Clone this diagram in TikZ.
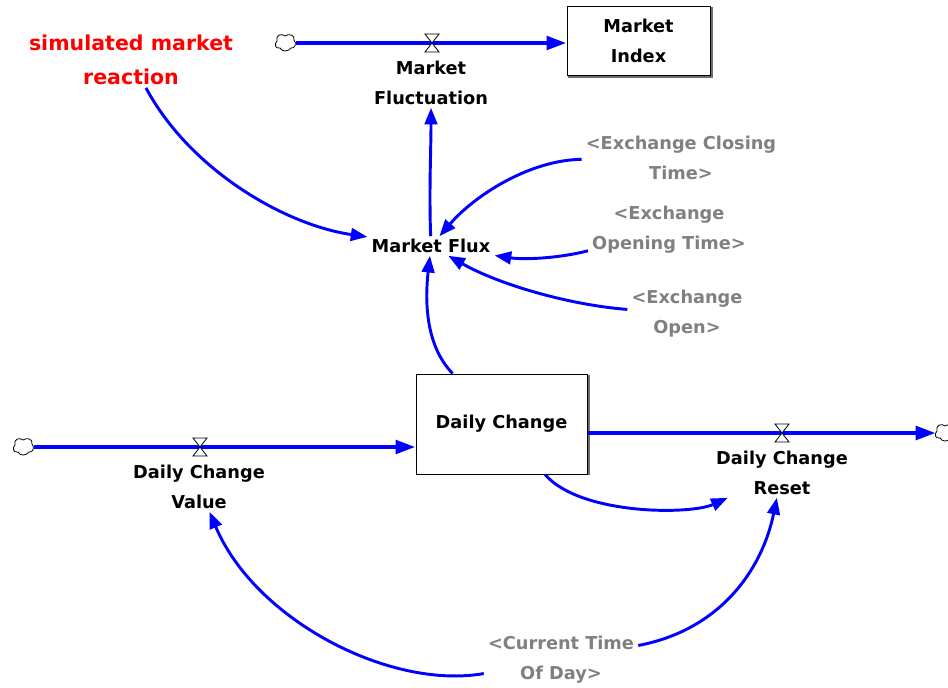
\documentclass[tikz,border=0pt]{standalone}
\usepackage{fontspec}
\setmainfont{DejaVu Sans}
\usetikzlibrary{arrows.meta}
\definecolor{flowblue}{RGB}{0,0,255}
\definecolor{lblgray}{RGB}{128,128,128}
\definecolor{simred}{RGB}{255,0,0}
\definecolor{shadowgray}{RGB}{110,110,110}
\begin{document}
\begin{tikzpicture}[x=0.75pt,y=-0.75pt,
  lbl/.style={font=\fontsize{13.3pt}{22.5pt}\selectfont\bfseries, align=center, inner xsep=3pt, inner ysep=2pt},
  ghost/.style={lbl, text=lblgray},
  stock/.style={lbl, draw=black, line width=0.75pt, fill=white},
  flow/.style={draw=flowblue, line width=3.2pt, -{Triangle[length=15pt,width=10pt]}},
  conn/.style={draw=flowblue, line width=2.2pt, -{Triangle[length=12.5pt,width=9.5pt]}},
  cloudnode/.style={minimum size=15pt, inner sep=0pt},
  shadowline/.style={draw=shadowgray, line width=1.5pt},
  cloud/.pic={\draw[fill=white, line width=0.6pt] (-9,-2) .. controls (-11,-8) and (-4,-10) .. (-1,-7) .. controls (3,-10) and (9,-8) .. (8,-3) .. controls (11,0) and (9,6) .. (5,5) .. controls (2,9) and (-4,9) .. (-6,5) .. controls (-11,6) and (-12,1) .. (-9,-2) -- cycle;},
  valve/.pic={\filldraw[fill=white, draw=black, line width=0.6pt] (-7,-9) -- (7,-9) -- (-7,9) -- (7,9) -- cycle;}
]
\path[use as bounding box, fill=white] (0,0) rectangle (948,687);

% stocks
\node[stock, minimum width=107.25pt, minimum height=51.75pt] (mindex) at (638.5,40.5) {Market\\Index};
\draw[shadowline] ([xshift=0.9pt,yshift=-1pt]mindex.north east) -- ([xshift=0.9pt,yshift=-0.9pt]mindex.south east) -- ([xshift=1pt,yshift=-0.9pt]mindex.south west);
\node[stock, minimum width=128.25pt, minimum height=75pt] (dc) at (501.5,424) {Daily Change};
\draw[shadowline] ([xshift=0.9pt,yshift=-1pt]dc.north east) -- ([xshift=0.9pt,yshift=0pt]dc.south east);

% labels
\node[lbl, text=simred, font=\fontsize{15.4pt}{25.5pt}\selectfont\bfseries] (sim) at (131,60) {simulated market\\reaction};
\node[lbl] (mfluc) at (431,83) {Market\\Fluctuation};
\node[lbl] (mflux) at (431,246) {Market Flux};
\node[ghost] (ecl) at (681,158) {<Exchange Closing\\Time>};
\node[ghost] (eot) at (669,230) {<Exchange\\Opening Time>};
\node[ghost] (eop) at (687,314) {<Exchange\\Open>};
\node[lbl] (dcv) at (199,487) {Daily Change\\Value};
\node[lbl] (dcr) at (782,473) {Daily Change\\Reset};
\node[ghost] (ctod) at (561,660) {<Current Time\\Of Day>};

% clouds
\node[cloudnode] (c1) at (286,43) {};
\node[cloudnode] (c2) at (24,447) {};
\node[cloudnode] (c3) at (946,433) {};

% flows
\draw[flow] (c1) -- (c1 -| mindex.west);
\draw[flow] (c2) -- (c2 -| dc.west);
\draw[flow] (c3 -| dc.east) -- (c3);
\pic at (c1) {cloud};
\pic at (c2) {cloud};
\pic at (c3) {cloud};
\coordinate (v1) at (432,43);
\coordinate (v2) at (200,447);
\coordinate (v3) at (782,433);
\pic at (v1) {valve};
\pic at (v2) {valve};
\pic at (v3) {valve};

% connectors
\draw[conn] (sim) .. controls (190,170) and (285,225) .. (mflux);
\draw[conn] (mflux) .. controls (429,190) and (431,150) .. (mfluc);
\draw[conn] (ecl) .. controls (530,160) and (475,195) .. (mflux);
\draw[conn] (eot) .. controls (560,258) and (525,260) .. (mflux);
\draw[conn] (eop) .. controls (570,305) and (500,285) .. (mflux);
\draw[conn] (dc) .. controls (425,345) and (425,300) .. (mflux);
\draw[conn] (dc) .. controls (580,515) and (690,515) .. (dcr);
\draw[conn] (ctod) .. controls (720,630) and (762,570) .. (dcr);
\draw[conn] (ctod) .. controls (390,690) and (255,620) .. (dcv);
\end{tikzpicture}
\end{document}
